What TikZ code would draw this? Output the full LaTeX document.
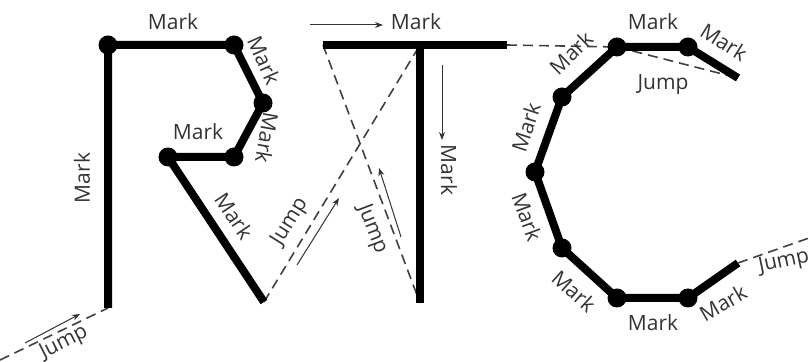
\documentclass[tikz,border=0pt]{standalone}
\usepackage{fontspec}
\setmainfont{Open Sans}
\usetikzlibrary{arrows.meta}
\tikzset{
  pen mark/.style={
    line width=4pt, draw=black, line join=round
  },
  pen jump/.style={
    line width=0.8pt, draw=black!75, dash pattern=on 5pt off 3pt
  },
  pen dot/.style={
    circle, fill=black, inner sep=0pt, minimum size=9.5pt
  },
  pen label/.style={
    font=\fontsize{10.5}{12}\selectfont, text=black!80, inner sep=1pt
  },
  pen arrow/.style={
    -{Stealth[length=4pt,width=3pt]}, line width=0.5pt, draw=black!80
  }
}

\begin{document}
\begin{tikzpicture}[x=0.5pt, y=-0.5pt]
  \useasboundingbox (0,0) rectangle (809,362);

  % R
  \coordinate (r0) at (108,308);
  \coordinate (r1) at (108,45);
  \coordinate (r2) at (234,45);
  \coordinate (r3) at (263,103);
  \coordinate (r4) at (234,157);
  \coordinate (r5) at (168,157);
  \coordinate (r6) at (264,302);
  % T
  \coordinate (t0) at (323,45);
  \coordinate (t1) at (507,45);
  \coordinate (tj) at (420,45);
  \coordinate (tb) at (420,303);
  % C
  \coordinate (c0) at (738,78);
  \coordinate (c1) at (688,47);
  \coordinate (c2) at (617,47);
  \coordinate (c3) at (562,97);
  \coordinate (c4) at (535,172);
  \coordinate (c5) at (562,248);
  \coordinate (c6) at (617,298);
  \coordinate (c7) at (688,298);
  \coordinate (c8) at (738,263);
  % pen enters and leaves
  \coordinate (in) at (0,360);
  \coordinate (out) at (809,238);

  % jumps
  \draw [pen jump] (in) -- (r0);
  \draw [pen jump] (r6) -- (tj);
  \draw [pen jump] (t0) -- (tb);
  \draw [pen jump] (t1) -- (c2);
  \draw [pen jump] (c2) -- (c0);
  \draw [pen jump] (c8) -- (out);

  % marks
  \draw [pen mark] (r0) -- (r1) -- (r2) -- (r3) -- (r4) -- (r5) -- (r6);
  \draw [pen mark] (t0) -- (t1);
  \draw [pen mark] (tj) -- (tb);
  \draw [pen mark] (c0) -- (c1) -- (c2) -- (c3) -- (c4) -- (c5) -- (c6) -- (c7) -- (c8);

  \foreach \p in {r1,r2,r3,r4,r5,c1,c2,c3,c4,c5,c6,c7}
    \node [pen dot] (dot-\p) at (\p) {};

  % direction arrows
  \coordinate (a1s) at (25,343);  \coordinate (a1e) at (80,314);
  \coordinate (a2s) at (297,265); \coordinate (a2e) at (339,198);
  \coordinate (a3s) at (401,237); \coordinate (a3e) at (379,168);
  \coordinate (a4s) at (310,25);  \coordinate (a4e) at (383,25);
  \coordinate (a5s) at (442,65);  \coordinate (a5e) at (442,140);
  \draw [pen arrow] (a1s) -- (a1e);
  \draw [pen arrow] (a2s) -- (a2e);
  \draw [pen arrow] (a3s) -- (a3e);
  \draw [pen arrow] (a4s) -- (a4e);
  \draw [pen arrow] (a5s) -- (a5e);

  % labels
  \node [pen label] (lr1) at (173,22) {Mark};
  \node [pen label, rotate=-66] (lr2) at (264,60) {Mark};
  \node [pen label, rotate=-100] (lr3) at (267,138) {Mark};
  \node [pen label] (lr4) at (198,132) {Mark};
  \node [pen label, rotate=-56] (lr5) at (234,216) {Mark};
  \node [pen label, rotate=90] (lr0) at (82,178) {Mark};
  \node [pen label, rotate=27] (lj0) at (64,343) {Jump};
  \node [pen label, rotate=58] (lj1) at (290,222) {Jump};
  \node [pen label, rotate=-69] (lj2) at (372,229) {Jump};
  \node [pen label] (lt0) at (416,22) {Mark};
  \node [pen label, rotate=-90] (lt1) at (449,170) {Mark};
  \node [pen label, rotate=-32] (lc0) at (724,42) {Mark};
  \node [pen label] (lc1) at (653,22) {Mark};
  \node [pen label, rotate=44] (lc2) at (571,53) {Mark};
  \node [pen label, rotate=72] (lc3) at (526,127) {Mark};
  \node [pen label, rotate=-70] (lc4) at (527,217) {Mark};
  \node [pen label, rotate=-42] (lc5) at (574,291) {Mark};
  \node [pen label] (lc6) at (653,323) {Mark};
  \node [pen label, rotate=30] (lc7) at (723,303) {Mark};
  \node [pen label] (lj3) at (663,85) {Jump};
  \node [pen label, rotate=12] (lj4) at (784,262) {Jump};
\end{tikzpicture}
\end{document}
